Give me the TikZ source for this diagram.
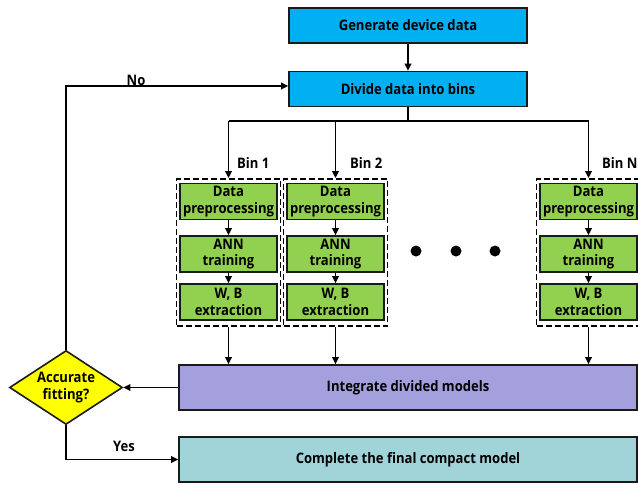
\documentclass[tikz,border=0pt]{standalone}
\usepackage{fontspec}
\setmainfont{Open Sans}[FakeStretch=0.9]
\usetikzlibrary{arrows.meta,shapes.geometric}
\definecolor{cyanbox}{HTML}{00B0F0}
\definecolor{greenbox}{HTML}{92D050}
\definecolor{purplebox}{HTML}{A4A0DE}
\definecolor{tealbox}{HTML}{A0D4D8}
\definecolor{yellowbox}{HTML}{FFFF00}
\definecolor{edge}{HTML}{1A1A1A}
\begin{document}
\begin{tikzpicture}[x=1pt,y=-1pt,
  txt/.style={font=\fontsize{14.5}{16.5}\selectfont\bfseries, align=center, inner sep=0pt},
  box/.style={txt, draw=edge, line width=1.6pt},
  bluebox/.style={box, fill=cyanbox, minimum width=238pt, minimum height=35pt},
  grbox/.style={box, fill=greenbox, minimum width=97pt, minimum height=36pt},
  widebox/.style={box, minimum width=458pt, minimum height=45pt},
  dashbox/.style={draw=black, dash pattern=on 6pt off 3pt, line width=1.8pt, minimum width=104pt, minimum height=147pt, inner sep=0pt},
  decision/.style={txt, diamond, draw=edge, line width=1.6pt, fill=yellowbox, minimum width=113pt, minimum height=74pt, aspect=1.53},
  line/.style={line width=1.8pt, draw=black},
  conn/.style={line, -{Triangle[length=7pt,width=6.5pt]}},
  lbl/.style={txt}
]
\useasboundingbox (0,0) rectangle (638,485);
\clip (0,0) rectangle (638,485);

\node[bluebox] (gen) at (408,25.5) {Generate device data};
\node[bluebox] (div) at (408,89) {Divide data into bins};

% bins
\foreach \n/\x in {1/228.5, 2/335.5, 3/588.5} {
  \node[dashbox] (d\n) at (\x,252.5) {};
  \node[grbox] (g\n a) at (\x,201.5) {Data\\preprocessing};
  \node[grbox] (g\n b) at (\x,254) {ANN\\training};
  \node[grbox] (g\n c) at (\x,302) {W, B\\extraction};
}

\node[lbl, anchor=west] (b1) at (237,163) {Bin 1};
\node[lbl, anchor=west] (b2) at (350,163) {Bin 2};
\node[lbl, anchor=west] (bN) at (602,163) {Bin N};

\fill (416,251) circle (5.5pt) (456,251) circle (5.5pt) (495,251) circle (5.5pt);

\node[widebox, fill=purplebox] (integ) at (408,387.5) {Integrate divided models};
\node[widebox, fill=tealbox] (comp) at (408,459.5) {Complete the final compact model};
\node[decision] (dia) at (66,387.5) {Accurate\\fitting?};

\node[lbl] (no) at (136,80) {No};
\node[lbl] (yes) at (124,446) {Yes};

\coordinate (busL) at (229,121);
\coordinate (busR) at (589,121);

\draw[conn] (gen) -- (div);
\draw[line] (div.south) -- (div.south |- busL);
\draw[line] (busL) -- (busR);
\foreach \n in {1,2,3} {
  \draw[conn] (g\n a |- busL) -- (g\n a |- d\n.north);
  \draw[conn] (g\n a) -- (g\n b);
  \draw[conn] (g\n b) -- (g\n c);
  \draw[conn] (g\n c |- d\n.south) -- (g\n c |- integ.north);
}
\draw[conn] (integ.west) -- (dia.east);
\draw[conn] (dia.north) |- ([yshift=3pt]div.west);
\draw[conn] (dia.south) |- (comp.west);
\end{tikzpicture}
\end{document}
